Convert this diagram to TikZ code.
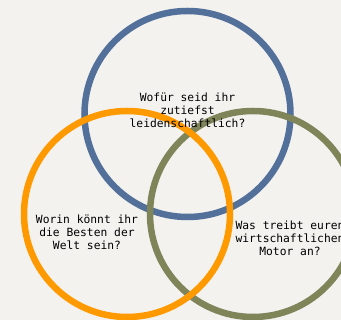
\documentclass[tikz,border=0pt]{standalone}
\usepackage{fontspec}
\setmonofont{DejaVu Sans Mono}
\definecolor{bg}{HTML}{F3F2EF}
\definecolor{cblue}{HTML}{52709A}
\definecolor{corange}{HTML}{FF9900}
\definecolor{colive}{HTML}{7F8459}
\begin{document}
\begin{tikzpicture}[x=1pt,y=1pt,
  ring/.style={line width=6.5pt},
  lbl/.style={font=\ttfamily\fontsize{11.3}{13}\selectfont, align=center, text=black, inner sep=0pt}]
\useasboundingbox (0,0) rectangle (341,320);
\fill[bg] (0,0) rectangle (341,320);
\clip (0,0) rectangle (341,320);
\coordinate (cb) at (187.5,206);
\coordinate (co) at (127,106);
\coordinate (cg) at (253,106);
\draw[ring, cblue] (cb) circle[radius=103];
\draw[ring, colive] (cg) circle[radius=103];
\draw[ring, corange] (co) circle[radius=103];
\node[lbl] (tb) at (187.5,210) {Wofür seid ihr\\zutiefst\\leidenschaftlich?};
\node[lbl] (to) at (87,88) {Worin könnt ihr\\die Besten der\\Welt sein?};
\node[lbl] (tg) at (290,82) {Was treibt euren\\wirtschaftlichen\\Motor an?};
\end{tikzpicture}
\end{document}
